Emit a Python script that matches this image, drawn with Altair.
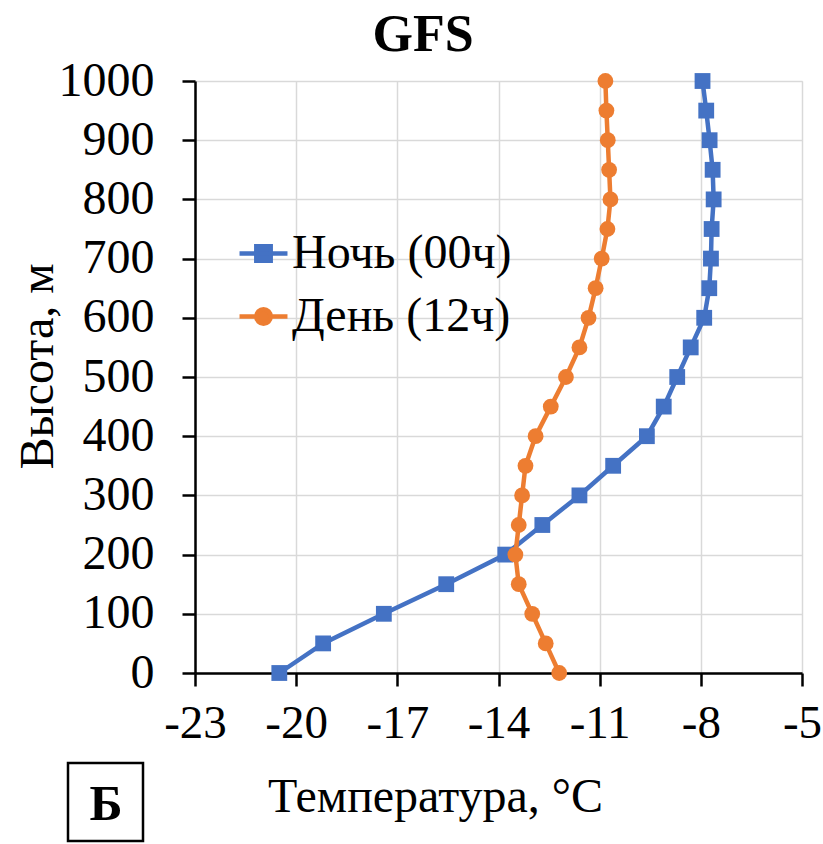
import altair as alt
import pandas as pd

heights = [0, 50, 100, 150, 200, 250, 300, 350, 400, 450, 500,
           550, 600, 650, 700, 750, 800, 850, 900, 950, 1000]
night = [-20.5, -19.2, -17.4, -15.55, -13.8, -12.7, -11.6, -10.6, -9.6, -9.1, -8.7,
         -8.3, -7.9, -7.75, -7.7, -7.68, -7.62, -7.65, -7.74, -7.84, -7.95]
day = [-12.2, -12.6, -13.0, -13.4, -13.5, -13.4, -13.3, -13.2, -12.9, -12.45, -12.0,
       -11.6, -11.33, -11.12, -10.94, -10.77, -10.68, -10.72, -10.76, -10.8, -10.83]
series_names = ["Ночь (00ч)", "День (12ч)"]
colors = ["#4472C4", "#ED7D31"]
marker_shapes = ["square", "circle"]
x_ticks = [-23, -20, -17, -14, -11, -8, -5]
y_ticks = list(range(0, 1001, 100))

rows = []
for h, v in zip(heights, night):
    rows.append({"h": h, "t": v, "s": series_names[0], "o": h})
for h, v in zip(heights, day):
    rows.append({"h": h, "t": v, "s": series_names[1], "o": h})
df = pd.DataFrame(rows)

FONT = "Liberation Serif"
W, H = 607, 592

sq = "M-1,0H1M-0.3,-0.3H0.3V0.3H-0.3Z"
ci = "M-1,0H-0.3A0.3,0.3,0,1,1,0.3,0A0.3,0.3,0,1,1,-0.3,0M0.3,0H1"

color_scale = alt.Scale(domain=series_names, range=colors)

legend = alt.Legend(
    title=None, orient="none", legendX=42, legendY=146,
    labelFont=FONT, labelFontSize=48, labelColor="black", labelOffset=2,
    symbolSize=2300, symbolStrokeWidth=4.5, symbolOpacity=1,
    rowPadding=12, labelLimit=400,
)

x_enc = alt.X("t:Q", scale=alt.Scale(domain=[-23, -5], nice=False, zero=False),
              axis=alt.Axis(values=x_ticks, title="Температура, °C",
                            labelExpr="'' + datum.value", labelOverlap=False, labelFlush=False,
                            labelFont=FONT, labelFontSize=47, labelColor="black",
                            labelPadding=14, tickSize=13, tickWidth=2.5, tickColor="black",
                            domainColor="black", domainWidth=2.5,
                            gridColor="#d9d9d9", gridWidth=1.5,
                            titleFont=FONT, titleFontSize=48, titleFontWeight="normal",
                            titleColor="black", titleX=240, titleY=138,
                            titleAlign="center", titleBaseline="alphabetic"))
y_enc = alt.Y("h:Q", scale=alt.Scale(domain=[0, 1000], nice=False),
              axis=alt.Axis(values=y_ticks, title="Высота, м", format="d",
                            labelOverlap=False, labelFlush=False,
                            labelFont=FONT, labelFontSize=48, labelColor="black",
                            labelPadding=28, tickSize=13, tickWidth=2.5, tickColor="black",
                            domainColor="black", domainWidth=2.5,
                            gridColor="#d9d9d9", gridWidth=1.5,
                            titleFont=FONT, titleFontSize=48, titleFontWeight="normal",
                            titleColor="black", titleX=-157, titleY=285,
                            titleAlign="center", titleBaseline="middle", titleAngle=-90))

lines = alt.Chart(df).mark_line(strokeWidth=4.5).encode(
    x=x_enc, y=y_enc, order="o:Q",
    color=alt.Color("s:N", scale=color_scale, legend=legend),
    detail="s:N",
)
point_layers = []
for name, shp in zip(series_names, marker_shapes):
    point_layers.append(
        alt.Chart(df).transform_filter(alt.datum.s == name).mark_point(
            filled=True, opacity=1, size=250, shape=shp).encode(
            x="t:Q", y="h:Q",
            color=alt.Color("s:N", scale=color_scale, legend=legend),
        )
    )
legend_layer = alt.Chart(df).transform_filter("datum.h < 0").mark_point(
    filled=True, opacity=1, strokeWidth=4.5).encode(
    x="t:Q", y="h:Q",
    color=alt.Color("s:N", scale=color_scale, legend=legend),
    stroke=alt.Stroke("s:N", scale=color_scale, legend=legend),
    shape=alt.Shape("s:N", scale=alt.Scale(domain=series_names, range=[sq, ci]), legend=legend),
)

ann = pd.DataFrame({"title": ["GFS"], "label": ["Б"]})
title = alt.Chart(ann).mark_text(font=FONT, fontSize=52, fontWeight="bold", color="black",
                                 align="center", baseline="middle").encode(
    text="title:N", x=alt.value(228), y=alt.value(-46))
box = alt.Chart(ann).mark_rect(fill="white", stroke="black", strokeWidth=2.5).encode(
    x=alt.value(-127), x2=alt.value(-52), y=alt.value(682), y2=alt.value(760))
box_text = alt.Chart(ann).mark_text(font=FONT, fontSize=50, fontWeight="bold", color="black",
                                    align="center", baseline="middle").encode(
    text="label:N", x=alt.value(-89), y=alt.value(724))

chart = alt.layer(legend_layer, lines, *point_layers, title, box, box_text).properties(
    width=W, height=H,
    autosize=alt.AutoSizeParams(type="none"),
    padding={"left": 195, "top": 81, "right": 823 - 195 - W, "bottom": 844 - 81 - H},
).configure_view(stroke=None).configure(background="white")

chart.save("out.html", embed_options={"renderer": "svg", "actions": False})
